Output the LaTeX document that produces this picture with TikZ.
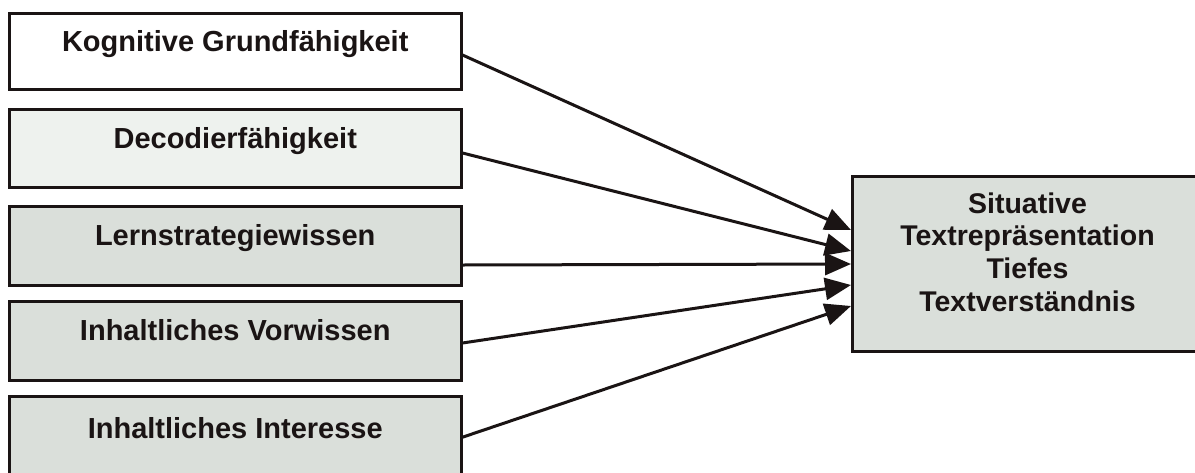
\documentclass[tikz,border=0pt]{standalone}
\usepackage{fontspec}
\setmainfont{Liberation Sans}
\usetikzlibrary{arrows.meta}
\definecolor{ink}{HTML}{1A1414}
\definecolor{fillA}{HTML}{EEF2EE}
\definecolor{fillB}{HTML}{DADFDA}
\tikzset{
  box/.style={draw=ink, line width=3pt, minimum width=451.5pt, inner sep=0pt,
    text=ink, font=\fontsize{29pt}{32.7pt}\selectfont\bfseries,
    text height=20pt, text depth=20pt},
  rbox/.style={line width=3pt, minimum width=370pt, minimum height=175.7pt,
    inner sep=0pt, outer sep=0pt, fill=fillB},
  rborder/.style={draw=ink, line width=3pt},
  rtext/.style={text=ink, font=\fontsize{28.5pt}{32.7pt}\selectfont\bfseries,
    align=center, inner sep=0pt},
  conn/.style={draw=ink, line width=3pt, -{Triangle[length=26pt,width=22pt]}}
}
\begin{document}
\begin{tikzpicture}[x=1pt,y=-1pt]
\useasboundingbox (0,0) rectangle (1195,472);
\clip (0,0) rectangle (1195,472);
\fill[white] (0,0) rectangle (1195,472);
\node[box, fill=white, minimum height=76pt]   (b1) at (235.25,51.5)  {Kognitive Grundfähigkeit};
\node[box, fill=fillA, minimum height=77.5pt] (b2) at (235.25,148.7) {Decodierfähigkeit};
\node[box, fill=fillB, minimum height=78.5pt] (b3) at (235.25,245.8) {Lernstrategiewissen};
\node[box, fill=fillB, minimum height=79pt]   (b4) at (235.25,340.5) {Inhaltliches Vorwissen};
\node[box, fill=fillB, minimum height=83.5pt] (b5) at (235.25,438.2) {Inhaltliches Interesse};
\node[rbox] (rb) at (1037.5,264) {};
\draw[rborder] (rb.north east) -- (rb.north west) -- (rb.south west) -- (rb.south east);
\node[rtext] (rt) at ([xshift=-10pt,yshift=12pt]rb.center) {Situative\\Textrepräsentation\\Tiefes\\Textverständnis};
\draw[conn] ([yshift=-3.5pt]b1.east) -- ([xshift=-1.5pt,yshift=34pt]rb.west);
\draw[conn] ([yshift=-4.3pt]b2.east) -- ([xshift=-1.5pt,yshift=13pt]rb.west);
\draw[conn] ([yshift=-19.2pt]b3.east) -- ([xshift=-1.5pt,yshift=0pt]rb.west);
\draw[conn] ([yshift=-2.5pt]b4.east) -- ([xshift=-1.5pt,yshift=-21pt]rb.west);
\draw[conn] ([yshift=1pt]b5.east) -- ([xshift=-1.5pt,yshift=-42pt]rb.west);
\end{tikzpicture}
\end{document}
